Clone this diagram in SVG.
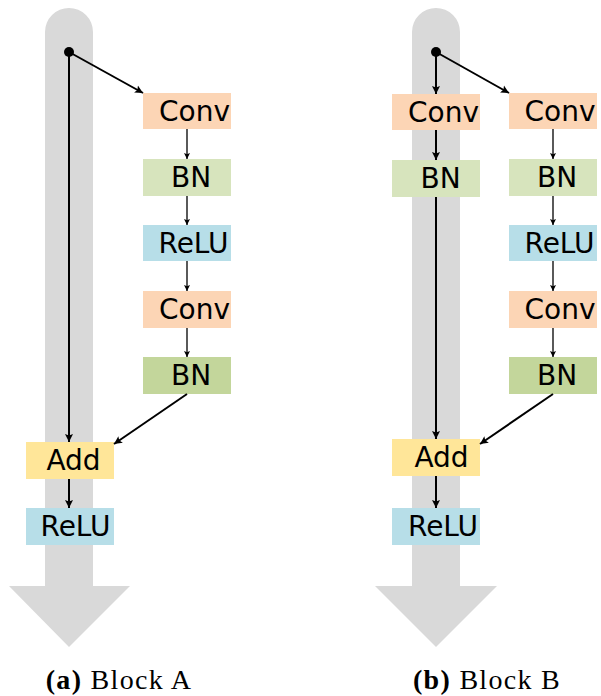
<svg xmlns="http://www.w3.org/2000/svg" width="601" height="696" viewBox="0 0 601 696">
<style>
.shaft{fill:#D9D9D9}
.lbl{font-family:"DejaVu Sans",sans-serif;font-size:28px;fill:#000;text-anchor:middle}
.cap{font-family:"Liberation Serif",serif;font-size:28px;fill:#000;text-anchor:middle;letter-spacing:1.3px}
.thick{stroke:#000;stroke-width:2;fill:none;marker-end:url(#ah)}
.thin{stroke:#000;stroke-width:1.3;fill:none;marker-end:url(#ahs)}
.conv{fill:#FCD5B5}.bn{fill:#D7E4BD}.relu{fill:#B7DEE8}.bn2{fill:#C3D69B}.add{fill:#FFE699}
</style>
<defs>
<marker id="ah" viewBox="0 0 10 10" refX="10" refY="5" markerWidth="8" markerHeight="9" markerUnits="userSpaceOnUse" orient="auto">
<path d="M0,0 L10,5 L0,10 L2,5 Z" fill="#000"/>
</marker>
<marker id="ahs" viewBox="0 0 10 10" refX="10" refY="5" markerWidth="6" markerHeight="10" markerUnits="userSpaceOnUse" orient="auto">
<path d="M0,0 L10,5 L0,10 L2,5 Z" fill="#000"/>
</marker>
<clipPath id="cA1"><rect x="143" y="93" width="88" height="36"/></clipPath>
<clipPath id="cA3"><rect x="143" y="225" width="88" height="36"/></clipPath>
<clipPath id="cA4"><rect x="143" y="291" width="88" height="37"/></clipPath>
<clipPath id="cA7"><rect x="26" y="508" width="88" height="37"/></clipPath>
<clipPath id="cB1"><rect x="392" y="94" width="88" height="36"/></clipPath>
<clipPath id="cB3"><rect x="509" y="93" width="88" height="36"/></clipPath>
<clipPath id="cB5"><rect x="509" y="225" width="88" height="36"/></clipPath>
<clipPath id="cB6"><rect x="509" y="291" width="88" height="37"/></clipPath>
<clipPath id="cB9"><rect x="392" y="508" width="88" height="37"/></clipPath>
</defs>
<g id="backbones">
<path class="shaft" d="M45,586 L45,32 A24,24 0 0 1 93,32 L93,586 L130,586 L69,647 L9,586 Z"/>
<path class="shaft" d="M412,586 L412,32 A24,24 0 0 1 460,32 L460,586 L497,586 L436,647 L375,586 Z"/>
</g>
<g id="A_conv1"><rect class="conv" x="143" y="93" width="88" height="36"/><text class="lbl" x="194.5" y="121" clip-path="url(#cA1)">Conv</text></g>
<g id="A_bn1"><rect class="bn" x="143" y="159" width="88" height="37"/><text class="lbl" x="191" y="187">BN</text></g>
<g id="A_relu1"><rect class="relu" x="143" y="225" width="88" height="36"/><text class="lbl" x="193.5" y="253" clip-path="url(#cA3)">ReLU</text></g>
<g id="A_conv2"><rect class="conv" x="143" y="291" width="88" height="37"/><text class="lbl" x="194.5" y="319" clip-path="url(#cA4)">Conv</text></g>
<g id="A_bn2"><rect class="bn2" x="143" y="357" width="88" height="37"/><text class="lbl" x="191" y="385">BN</text></g>
<g id="A_add"><rect class="add" x="26" y="442" width="88" height="37"/><text class="lbl" x="73.5" y="470">Add</text></g>
<g id="A_relu2"><rect class="relu" x="26" y="508" width="88" height="37"/><text class="lbl" x="75.5" y="536" clip-path="url(#cA7)">ReLU</text></g>

<g id="B_conv1"><rect class="conv" x="392" y="94" width="88" height="36"/><text class="lbl" x="443.5" y="122" clip-path="url(#cB1)">Conv</text></g>
<g id="B_bn1"><rect class="bn" x="392" y="160" width="88" height="37"/><text class="lbl" x="440.5" y="188">BN</text></g>
<g id="B_conv2"><rect class="conv" x="509" y="93" width="88" height="36"/><text class="lbl" x="560" y="121" clip-path="url(#cB3)">Conv</text></g>
<g id="B_bn2"><rect class="bn" x="509" y="159" width="88" height="37"/><text class="lbl" x="557" y="187">BN</text></g>
<g id="B_relu1"><rect class="relu" x="509" y="225" width="88" height="36"/><text class="lbl" x="559.5" y="253" clip-path="url(#cB5)">ReLU</text></g>
<g id="B_conv3"><rect class="conv" x="509" y="291" width="88" height="37"/><text class="lbl" x="560" y="319" clip-path="url(#cB6)">Conv</text></g>
<g id="B_bn3"><rect class="bn2" x="509" y="357" width="88" height="37"/><text class="lbl" x="557" y="385">BN</text></g>
<g id="B_add"><rect class="add" x="392" y="439" width="88" height="37"/><text class="lbl" x="441.5" y="467">Add</text></g>
<g id="B_relu2"><rect class="relu" x="392" y="508" width="88" height="37"/><text class="lbl" x="443" y="536" clip-path="url(#cB9)">ReLU</text></g>

<g id="connectors">
<line class="thick" x1="69" y1="52" x2="143" y2="93"/>
<line class="thick" x1="69" y1="52" x2="69" y2="442"/>
<line class="thin" x1="187" y1="129" x2="187" y2="159"/>
<line class="thin" x1="187" y1="196" x2="187" y2="225"/>
<line class="thin" x1="187" y1="261" x2="187" y2="291"/>
<line class="thin" x1="187" y1="328" x2="187" y2="357"/>
<line class="thick" x1="187" y1="394" x2="114" y2="444"/>
<line class="thick" x1="69" y1="479" x2="69" y2="508"/>
<circle cx="69" cy="52" r="5" fill="#000"/>

<line class="thick" x1="436" y1="52" x2="436" y2="94"/>
<line class="thick" x1="436" y1="52" x2="509" y2="93"/>
<line class="thick" x1="436" y1="130" x2="436" y2="160"/>
<line class="thick" x1="436" y1="197" x2="436" y2="439"/>
<line class="thin" x1="553" y1="129" x2="553" y2="159"/>
<line class="thin" x1="553" y1="196" x2="553" y2="225"/>
<line class="thin" x1="553" y1="261" x2="553" y2="291"/>
<line class="thin" x1="553" y1="328" x2="553" y2="357"/>
<line class="thick" x1="553" y1="394" x2="480" y2="444"/>
<line class="thick" x1="436" y1="476" x2="436" y2="508"/>
<circle cx="436" cy="52" r="5" fill="#000"/>
</g>
<g id="captions">
<text class="cap" x="119" y="689"><tspan font-weight="bold">(a)</tspan> Block A</text>
<text class="cap" x="487" y="689"><tspan font-weight="bold">(b)</tspan> Block B</text>
</g>
</svg>
